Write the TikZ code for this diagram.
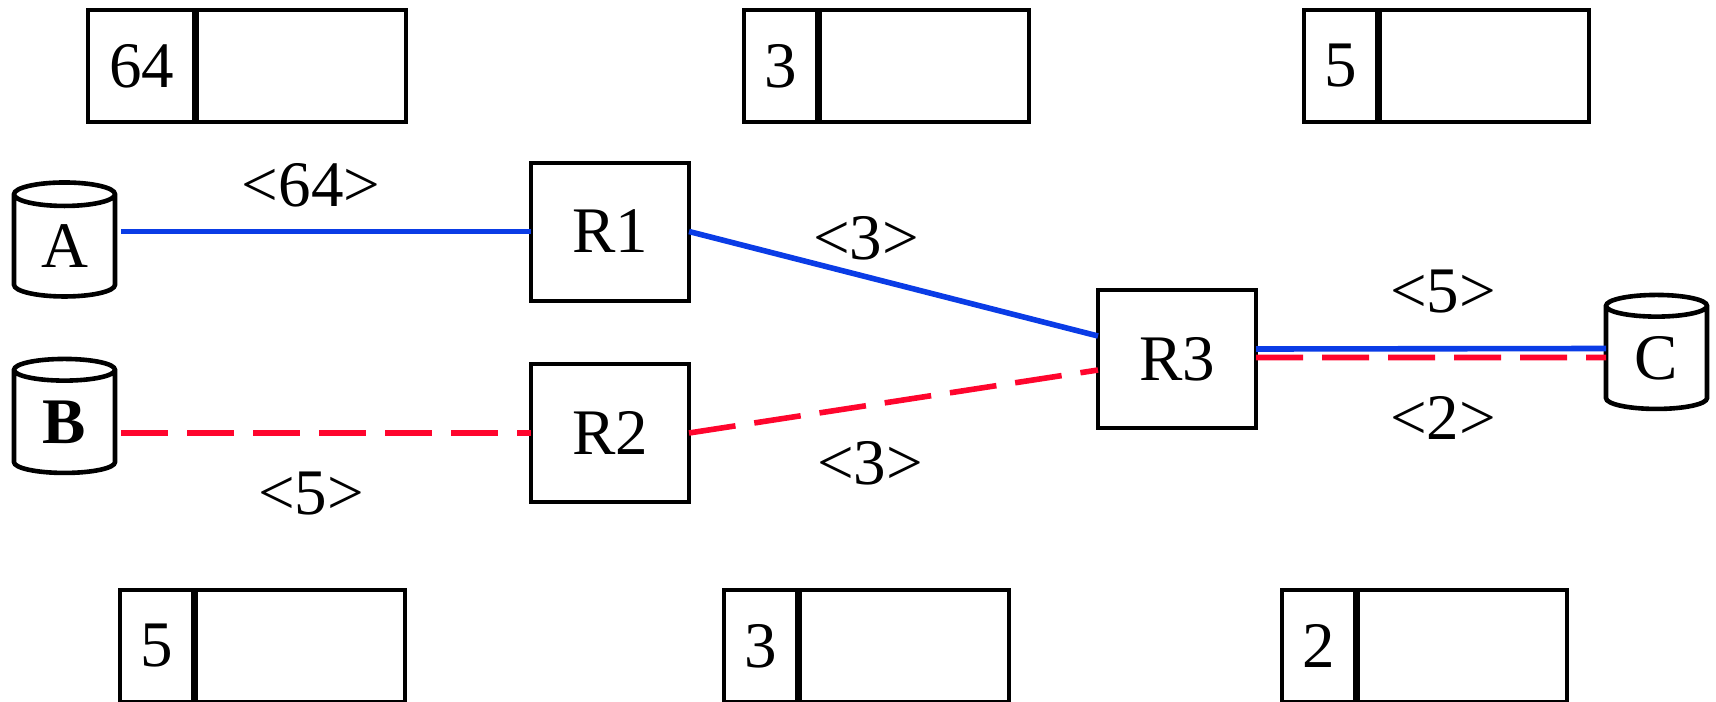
\documentclass[tikz,border=0pt]{standalone}
\usepackage{fontspec}
\setmainfont{Liberation Serif}
\usetikzlibrary{shapes.geometric}
\definecolor{pathblue}{RGB}{10,60,230}
\definecolor{pathred}{RGB}{255,5,45}

\begin{document}
\begin{tikzpicture}[x = 0.5pt, y = -0.5pt, font = \fontsize{32.5}{39}\selectfont,
        router/.style = {draw, line width = 2pt, minimum width = 79pt, minimum height = 69pt, inner sep = 0pt, outer sep = 0pt},
        host/.style = {draw, line width = 2.3pt, cylinder, shape border rotate = 90, aspect = 0.5, minimum width = 50.5pt, minimum height = 57pt, inner sep = 0pt, outer sep = 0pt},
        keycell/.style = {draw, line width = 2pt, minimum width = 37pt, minimum height = 56pt, inner sep = 0pt, outer sep = 0pt, anchor = west},
        valcell/.style = {draw, line width = 2pt, minimum width = 105.5pt, minimum height = 56pt, inner sep = 0pt, outer sep = 0pt, anchor = west},
        divider/.style = {line width = 3.5pt},
        bluelink/.style = {pathblue, line width = 2.8pt},
        redlink/.style = {pathred, line width = 2.8pt, dash pattern = on 23.5pt off 9.5pt}]

        \useasboundingbox (0,0) rectangle (1716,701);

        % tables, top row
        \node [keycell, minimum width = 53.5pt] (t1) at (88,66) {64};
        \node [valcell] (t1v) at (t1.east) {};
        \draw [divider] (t1.north east) -- (t1.south east);
        \node [keycell] (t2) at (744,66) {3};
        \node [valcell] (t2v) at (t2.east) {};
        \draw [divider] (t2.north east) -- (t2.south east);
        \node [keycell] (t3) at (1304,66) {5};
        \node [valcell] (t3v) at (t3.east) {};
        \draw [divider] (t3.north east) -- (t3.south east);

        % tables, bottom row
        \node [keycell] (b1) at (120,646) {5};
        \node [valcell] (b1v) at (b1.east) {};
        \draw [divider] (b1.north east) -- (b1.south east);
        \node [keycell] (b2) at (724,646) {3};
        \node [valcell] (b2v) at (b2.east) {};
        \draw [divider] (b2.north east) -- (b2.south east);
        \node [keycell] (b3) at (1282,646) {2};
        \node [valcell] (b3v) at (b3.east) {};
        \draw [divider] (b3.north east) -- (b3.south east);

        \node [host] (A) at (64.5,246.5) {A};
        \node [host] (B) at (64.5,422.5) {\textbf{B}};
        \node [host] (C) at (1656.5,358.5) {C};

        \node [router] (R1) at (610,231.5) {R1};
        \node [router] (R2) at (610,433) {R2};
        \node [router] (R3) at (1177,359) {R3};

        \draw [bluelink, shorten <= 3pt] (A.east |- R1.west) -- (R1.west);
        \draw [bluelink] (R1.east) -- ([yshift = 11.5pt]R3.west);
        \draw [bluelink] ([yshift = 5pt]R3.east) -- ([yshift = 5pt]C.west);
        \draw [redlink, shorten <= 3pt] (B.east |- R2.west) -- (R2.west);
        \draw [redlink] (R2.east) -- ([yshift = -5.5pt]R3.west);
        \draw [redlink] ([yshift = 0.75pt]R3.east) -- ([yshift = 0.5pt]C.west);

        \node (AR1) at (311,185) {<64>};
        \node (R1R3) at (866,238) {<3>};
        \node (BR2) at (311,494) {<5>};
        \node (R2R3) at (870,463) {<3>};
        \node (R3Cb) at (1443,292) {<5>};
        \node (R3Cr) at (1443,418) {<2>};
\end{tikzpicture}
\end{document}
